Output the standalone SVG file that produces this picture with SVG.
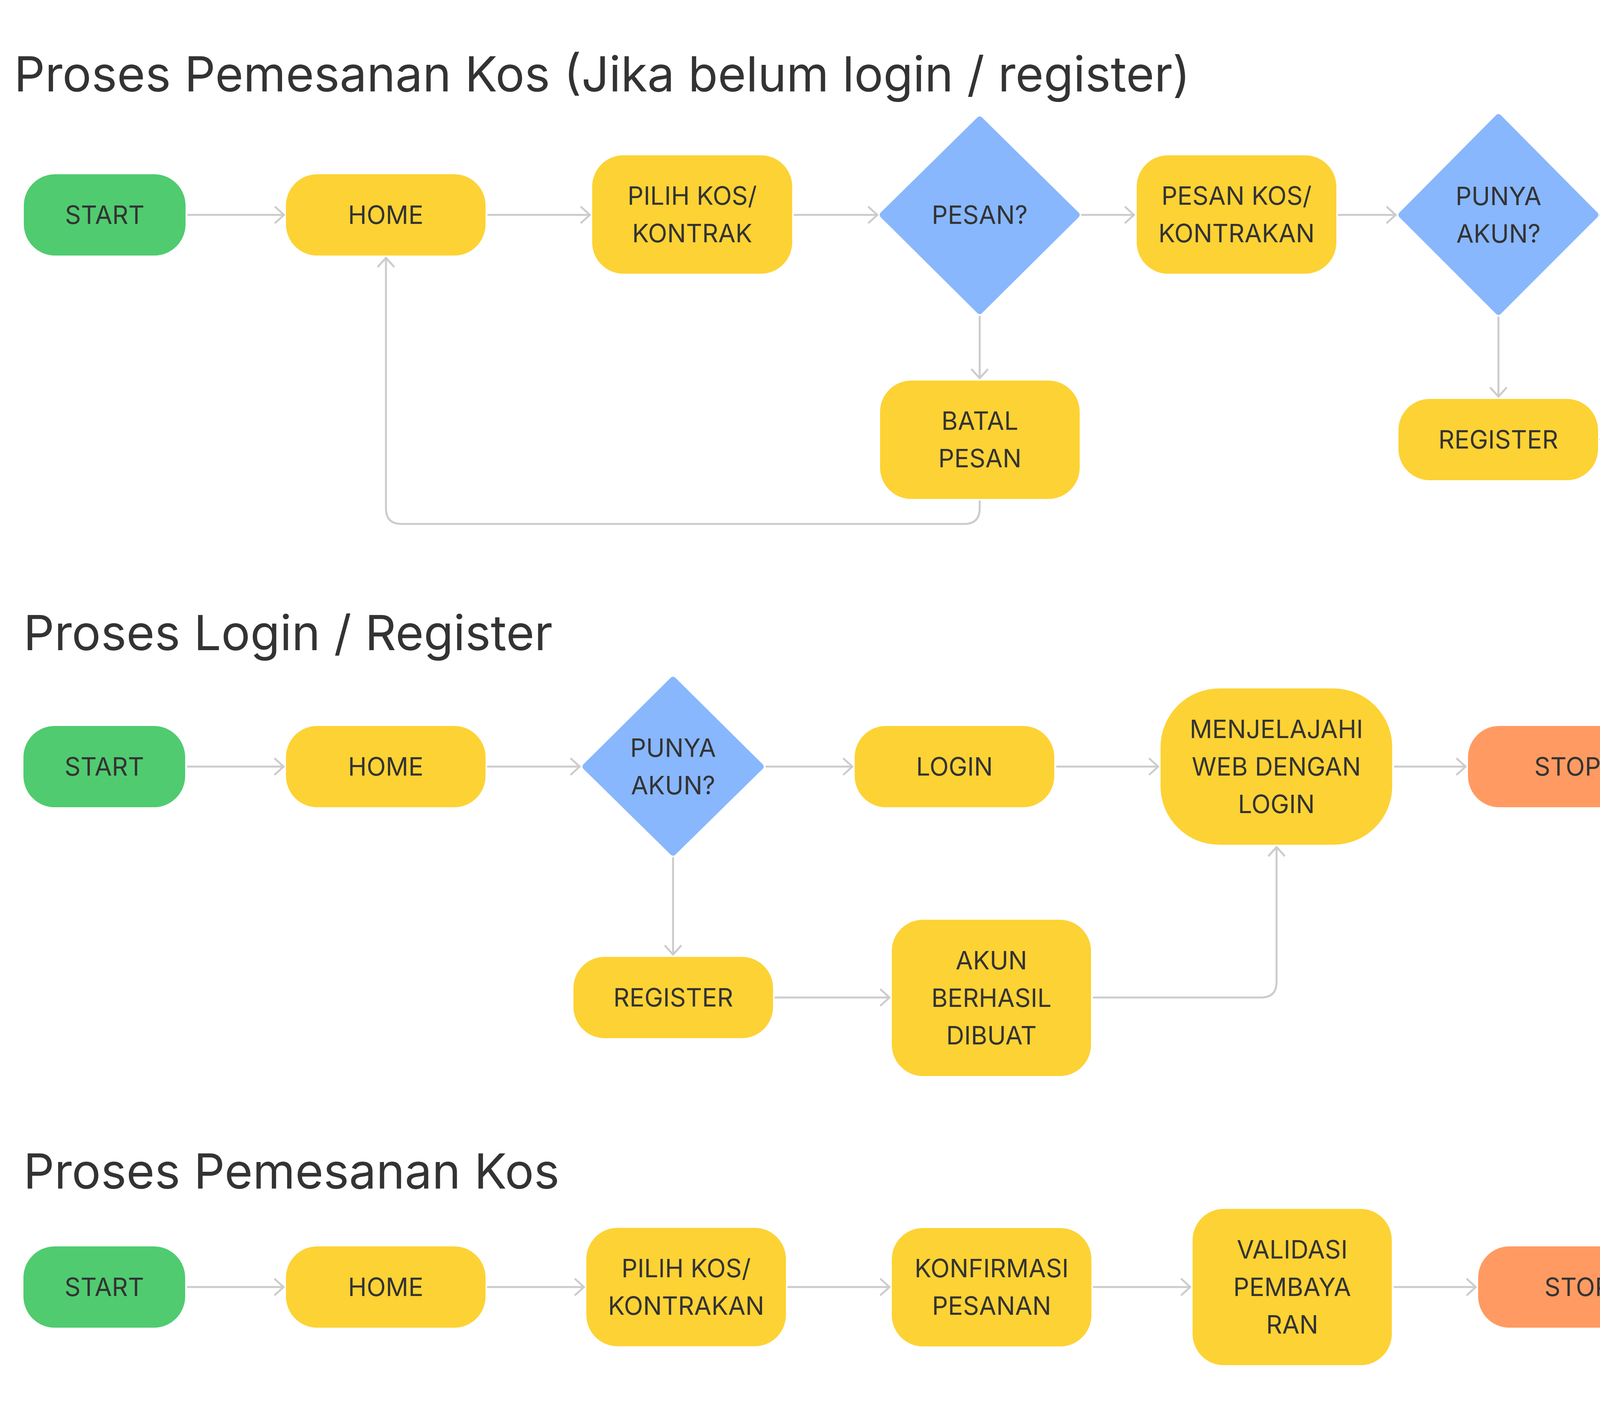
<svg xmlns="http://www.w3.org/2000/svg" width="6983" height="3642" viewBox="0 0 6983 3642">
<style>
.bg{fill:#ffffff}
.h{font-family:Inter,"Liberation Sans",sans-serif;font-size:124px;fill:#333333}
.t{font-family:Inter,"Liberation Sans",sans-serif;font-size:64px;fill:#333333;text-anchor:middle}
.g{fill:#50CB70}
.y{fill:#FDD234}
.o{fill:#FF9B62}
.d{fill:#88B7FD;stroke:#88B7FD;stroke-width:16;stroke-linejoin:round}
.c{fill:none;stroke:#CCCCCC;stroke-width:5;stroke-linecap:round;stroke-linejoin:round;marker-end:url(#arr)}
</style>
<defs>
<marker id="arr" markerUnits="userSpaceOnUse" viewBox="-30 -30 60 60" markerWidth="60" markerHeight="60" refX="0" refY="0" orient="auto">
<path d="M -22 -20 L 0 0 L -22 20" fill="none" stroke="#CCCCCC" stroke-width="5" stroke-linecap="round" stroke-linejoin="round"/>
</marker>
</defs>
<rect class="bg" x="0" y="0" width="6983" height="3642"/>

<text class="h" x="36" y="234">Proses Pemesanan Kos (Jika belum login / register)</text>
<text class="h" x="60" y="1664">Proses Login / Register</text>
<text class="h" x="60" y="3042">Proses Pemesanan Kos</text>

<g id="connectors">
<path class="c" d="M 482 550 H 727"/>
<path class="c" d="M 1250 550 H 1510"/>
<path class="c" d="M 2034 550 H 2246"/>
<path class="c" d="M 2770 550 H 2903"/>
<path class="c" d="M 3427 550 H 3573"/>
<path class="c" d="M 4097 550 H 4247"/>
<path class="c" d="M 4770 550 H 4966"/>
<path class="c" d="M 5491 550 H 5702"/>
<path class="c" d="M 6226 550 H 6437"/>
<path class="c" d="M 2508 810 V 968"/>
<path class="c" d="M 3836 812 V 1015"/>
<path class="c" d="M 4097 1125 H 4386"/>
<path class="c" d="M 4910 1125 H 5188 Q 5228 1125 5228 1085 V 706"/>
<path class="c" d="M 2508 1283 V 1301 Q 2508 1341 2468 1341 H 1028 Q 988 1341 988 1301 V 660"/>

<path class="c" d="M 481 1962 H 726"/>
<path class="c" d="M 1249 1962 H 1484"/>
<path class="c" d="M 1962 1962 H 2182"/>
<path class="c" d="M 2706 1962 H 2965"/>
<path class="c" d="M 3571 1962 H 3752"/>
<path class="c" d="M 1723 2196 V 2443"/>
<path class="c" d="M 1985 2553 H 2277"/>
<path class="c" d="M 2800 2553 H 3228 Q 3268 2553 3268 2513 V 2168"/>

<path class="c" d="M 481 3294 H 726"/>
<path class="c" d="M 1249 3294 H 1495"/>
<path class="c" d="M 2018 3294 H 2277"/>
<path class="c" d="M 2800 3294 H 3047"/>
<path class="c" d="M 3570 3294 H 3778"/>
</g>

<g id="s1_start"><rect class="g" x="61" y="446" width="414" height="208" rx="80"/><text class="t" x="268" y="573">START</text></g>
<g id="s1_home"><rect class="y" x="732" y="446" width="511" height="208" rx="80"/><text class="t" x="987.5" y="573">HOME</text></g>
<g id="s1_pilih"><rect class="y" x="1516" y="397.5" width="512" height="303" rx="80"/><text class="t" x="1772" y="524">PILIH KOS/</text><text class="t" x="1772" y="620">KONTRAK</text></g>
<g id="s1_pesan"><polygon class="d" points="2508,306 2756,550 2508,796 2260,550"/><text class="t" x="2508" y="573">PESAN?</text></g>
<g id="s1_pesankos"><rect class="y" x="2910" y="397.5" width="511" height="303" rx="80"/><text class="t" x="3165.5" y="524">PESAN KOS/</text><text class="t" x="3165.5" y="620">KONTRAKAN</text></g>
<g id="s1_punya"><polygon class="d" points="3836,300 4084,550 3836,798 3588,550"/><text class="t" x="3836" y="525">PUNYA</text><text class="t" x="3836" y="621">AKUN?</text></g>
<g id="s1_login"><rect class="y" x="4253" y="446" width="511" height="208" rx="80"/><text class="t" x="4508.5" y="573">LOGIN</text></g>
<g id="s1_konf"><rect class="y" x="4972" y="397.5" width="512" height="303" rx="80"/><text class="t" x="5228" y="524">KONFIRMASI</text><text class="t" x="5228" y="620">PESANAN</text></g>
<g id="s1_menunggu"><rect class="y" x="5708" y="397.5" width="512" height="303" rx="80"/><text class="t" x="5964" y="524">MENUNGGU</text><text class="t" x="5964" y="620">VALIDASI</text></g>
<g id="s1_stop"><rect class="o" x="6443" y="446" width="513" height="208" rx="80"/><text class="t" x="6699.5" y="573">STOP</text></g>
<g id="s1_batal"><rect class="y" x="2253" y="974" width="511" height="303" rx="80"/><text class="t" x="2508.5" y="1100">BATAL</text><text class="t" x="2508.5" y="1196">PESAN</text></g>
<g id="s1_register"><rect class="y" x="3580" y="1021" width="511" height="208" rx="80"/><text class="t" x="3835.5" y="1148">REGISTER</text></g>
<g id="s1_akun"><rect class="y" x="4392" y="925" width="512" height="400" rx="80"/><text class="t" x="4648" y="1052">AKUN</text><text class="t" x="4648" y="1148">BERHASIL</text><text class="t" x="4648" y="1244">DIBUAT</text></g>

<g id="s2_start"><rect class="g" x="60" y="1858" width="414" height="208" rx="80"/><text class="t" x="267" y="1985">START</text></g>
<g id="s2_home"><rect class="y" x="732" y="1858" width="511" height="208" rx="80"/><text class="t" x="987.5" y="1985">HOME</text></g>
<g id="s2_punya"><polygon class="d" points="1723,1740 1947,1962 1723,2182 1499,1962"/><text class="t" x="1723" y="1937">PUNYA</text><text class="t" x="1723" y="2033">AKUN?</text></g>
<g id="s2_login"><rect class="y" x="2188" y="1858" width="511" height="208" rx="80"/><text class="t" x="2443.5" y="1985">LOGIN</text></g>
<g id="s2_menjelajahi"><rect class="y" x="2971" y="1762" width="593" height="400" rx="150"/><text class="t" x="3267.5" y="1889">MENJELAJAHI</text><text class="t" x="3267.5" y="1985">WEB DENGAN</text><text class="t" x="3267.5" y="2081">LOGIN</text></g>
<g id="s2_stop"><rect class="o" x="3758" y="1858" width="510" height="208" rx="80"/><text class="t" x="4013" y="1985">STOP</text></g>
<g id="s2_register"><rect class="y" x="1468" y="2449" width="511" height="208" rx="80"/><text class="t" x="1723.5" y="2576">REGISTER</text></g>
<g id="s2_akun"><rect class="y" x="2283" y="2354" width="510" height="400" rx="80"/><text class="t" x="2538" y="2481">AKUN</text><text class="t" x="2538" y="2577">BERHASIL</text><text class="t" x="2538" y="2673">DIBUAT</text></g>

<g id="s3_start"><rect class="g" x="60" y="3190" width="414" height="208" rx="80"/><text class="t" x="267" y="3317">START</text></g>
<g id="s3_home"><rect class="y" x="732" y="3190" width="511" height="208" rx="80"/><text class="t" x="987.5" y="3317">HOME</text></g>
<g id="s3_pilih"><rect class="y" x="1501" y="3142.5" width="511" height="303" rx="80"/><text class="t" x="1756.5" y="3269">PILIH KOS/</text><text class="t" x="1756.5" y="3365">KONTRAKAN</text></g>
<g id="s3_konf"><rect class="y" x="2283" y="3143" width="511" height="303" rx="80"/><text class="t" x="2538.5" y="3269">KONFIRMASI</text><text class="t" x="2538.5" y="3365">PESANAN</text></g>
<g id="s3_validasi"><rect class="y" x="3053" y="3094" width="510" height="400" rx="80"/><text class="t" x="3308" y="3221">VALIDASI</text><text class="t" x="3308" y="3317">PEMBAYA</text><text class="t" x="3308" y="3413">RAN</text></g>
<g id="s3_stop"><rect class="o" x="3784" y="3190" width="510" height="208" rx="80"/><text class="t" x="4039" y="3317">STOP</text></g>
</svg>
